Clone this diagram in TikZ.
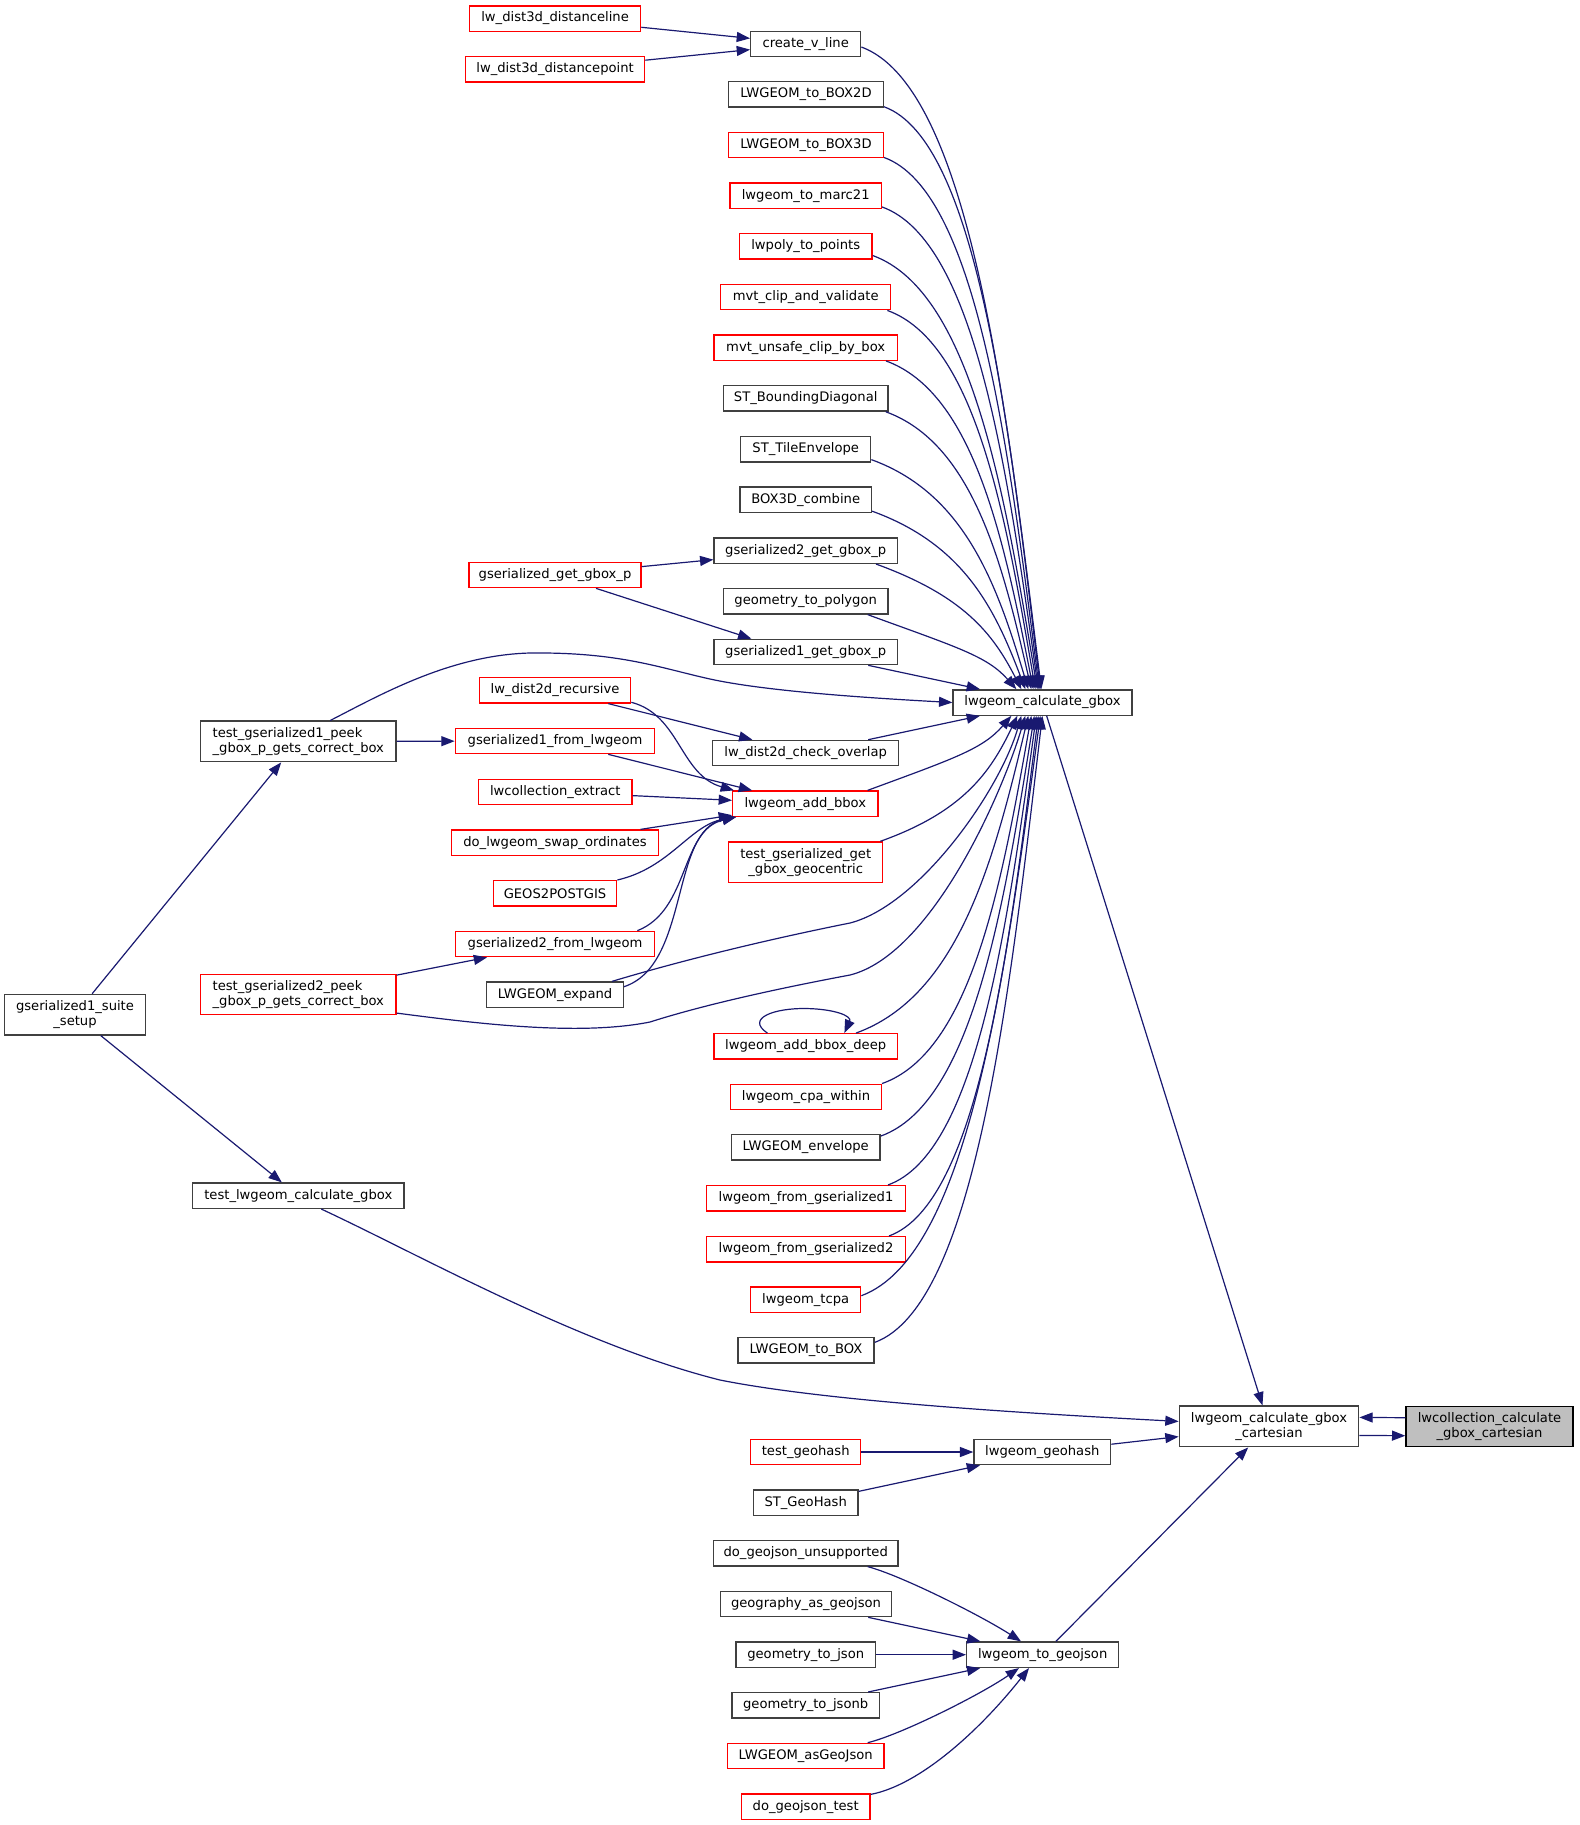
\documentclass[tikz,border=0pt]{standalone}
\usepackage{fontspec}
\setmainfont{DejaVu Sans}
\usetikzlibrary{arrows.meta,calc}
\definecolor{edgec}{HTML}{191970}
\definecolor{nred}{HTML}{FF0000}
\definecolor{nblk}{HTML}{404040}
\definecolor{ngray}{HTML}{BFBFBF}
\begin{document}
\begin{tikzpicture}[x=0.75pt,y=-0.75pt, font=\fontsize{9.85}{11.5}\selectfont,
 nbox/.style={draw=nblk, line width=1pt, inner sep=0pt, minimum height=19pt, text=black},
 nb/.style={nbox},
 nr/.style={nbox, draw=nred},
 wd/.style={minimum width=#1*0.75pt},
 tall/.style={minimum height=#1*0.75pt},
 edg/.style={draw=edgec, line width=0.9pt, -{Triangle[length=10pt,width=7.5pt]}}]
\useasboundingbox (0,0) rectangle (1579,1825);
% nodes
\node[nr,wd=171] (d3l) at (555.1,18.5) {lw\_dist3d\_distanceline};
\node[nr,wd=179] (d3p) at (555.1,69.3) {lw\_dist3d\_distancepoint};
\node[nb,wd=110] (cvl) at (805.7,44) {create\_v\_line};
\node[nb,wd=154.6] (b2d) at (806,94.4) {LWGEOM\_to\_BOX2D};
\node[nr,wd=154.6] (b3d) at (806,145.1) {LWGEOM\_to\_BOX3D};
\node[nr,wd=151.3] (marc) at (805.7,195.6) {lwgeom\_to\_marc21};
\node[nr,wd=132.7] (lwp) at (805.7,246.2) {lwpoly\_to\_points};
\node[nr,wd=170] (mvtc) at (805.7,297.1) {mvt\_clip\_and\_validate};
\node[nr,wd=183.3] (mvtu) at (805.7,347.6) {mvt\_unsafe\_clip\_by\_box};
\node[nb,wd=164.7] (stbd) at (805.7,398.4) {ST\_BoundingDiagonal};
\node[nb,wd=130] (stte) at (805.7,449.3) {ST\_TileEnvelope};
\node[nb,wd=131.3] (b3c) at (805.7,499.8) {BOX3D\_combine};
\node[nb,wd=183.3] (gs2g) at (805.7,550.7) {gserialized2\_get\_gbox\_p};
\node[nr,wd=172] (ggp) at (555,575) {gserialized\_get\_gbox\_p};
\node[nb,wd=164.7] (g2p) at (805.7,601.3) {geometry\_to\_polygon};
\node[nb,wd=183.3] (gs1g) at (805.7,652) {gserialized1\_get\_gbox\_p};
\node[nb,wd=179] (gbox) at (1042.5,702.5) {lwgeom\_calculate\_gbox};
\node[nr,wd=151.4] (ldr) at (555,690.3) {lw\_dist2d\_recursive};
\node[nb,wd=195.3,tall=40.6,align=left] (tgp1) at (298.3,741.4) {test\_gserialized1\_peek\\\_gbox\_p\_gets\_correct\_box};
\node[nr,wd=199.4] (gs1f) at (555,741) {gserialized1\_from\_lwgeom};
\node[nb,wd=186] (cko) at (805.7,753) {lw\_dist2d\_check\_overlap};
\node[nr,wd=153.3] (lce) at (555.3,792) {lwcollection\_extract};
\node[nr,wd=145.3] (addb) at (805.3,803.7) {lwgeom\_add\_bbox};
\node[nr,wd=207.4] (swap) at (555,842.7) {do\_lwgeom\_swap\_ordinates};
\node[nr,wd=154,tall=40.7,align=center] (geoc) at (805.7,862.3) {test\_gserialized\_get\\\_gbox\_geocentric};
\node[nr,wd=123.4] (g2pg) at (555,893.3) {GEOS2POSTGIS};
\node[nr,wd=199.4] (gs2f) at (555,944) {gserialized2\_from\_lwgeom};
\node[nr,wd=195.3,tall=40,align=left] (tgp2) at (298.3,994.4) {test\_gserialized2\_peek\\\_gbox\_p\_gets\_correct\_box};
\node[nb,wd=136.6] (lexp) at (555,994.7) {LWGEOM\_expand};
\node[nb,wd=140.6,tall=40.6,align=center] (setup) at (75,1014.7) {gserialized1\_suite\\\_setup};
\node[nr,wd=183.3] (abd) at (805.7,1046.4) {lwgeom\_add\_bbox\_deep};
\node[nr,wd=150.6] (cpa) at (806,1096.9) {lwgeom\_cpa\_within};
\node[nb,wd=148.7] (env) at (805.7,1147.4) {LWGEOM\_envelope};
\node[nr,wd=198.6] (fg1) at (806,1198.3) {lwgeom\_from\_gserialized1};
\node[nb,wd=211.3] (tlcg) at (298.3,1195.7) {test\_lwgeom\_calculate\_gbox};
\node[nr,wd=198.6] (fg2) at (806,1249.3) {lwgeom\_from\_gserialized2};
\node[nr,wd=110] (tcpa) at (805.7,1299.7) {lwgeom\_tcpa};
\node[nb,wd=136] (tbox) at (806,1350.4) {LWGEOM\_to\_BOX};
\node[nb,wd=179.4,tall=40.7,align=center] (gcart) at (1269,1426.4) {lwgeom\_calculate\_gbox\\\_cartesian};
\node[nbox,fill=ngray,draw=black,wd=167,tall=40,align=center] (lcol) at (1489.5,1426.7) {lwcollection\_calculate\\\_gbox\_cartesian};
\node[nr,wd=110] (tgh) at (805.7,1452) {test\_geohash};
\node[nb,wd=136.7] (lgh) at (1042.3,1452) {lwgeom\_geohash};
\node[nb,wd=104.7] (stgh) at (805.7,1502.7) {ST\_GeoHash};
\node[nb,wd=184.7] (dgu) at (805.7,1553.3) {do\_geojson\_unsupported};
\node[nb,wd=170.6] (gag) at (806,1604) {geography\_as\_geojson};
\node[nb,wd=139.3] (g2j) at (805.7,1654.7) {geometry\_to\_json};
\node[nb,wd=152] (l2gj) at (1042.7,1654.7) {lwgeom\_to\_geojson};
\node[nb,wd=147.3] (g2jb) at (805.7,1705.3) {geometry\_to\_jsonb};
\node[nr,wd=156.7] (lagj) at (805.7,1756) {LWGEOM\_asGeoJson};
\node[nr,wd=128.7] (dgt) at (805.7,1806.7) {do\_geojson\_test};
% edges top
\draw[edg] (d3l) -- (cvl);
\draw[edg] (d3p) -- (cvl);
\draw[edg] ($(cvl.east)+(0,3)$) .. controls (969.5,86.9) and (1005.7,400.7) .. ($(gbox.north west)+(89,0)$);
\draw[edg] ($(b2d.south east)+(0,-1)$) .. controls (977.9,140.7) and (1009.5,427.2) .. ($(gbox.north west)+(88,0)$);
\draw[edg] ($(b3d.south east)+(0,-1)$) .. controls (977.3,191.2) and (1008.7,450) .. ($(gbox.north west)+(87,0)$);
\draw[edg] ($(marc.south east)+(0,-2)$) .. controls (975.9,240.7) and (1007.5,472.2) .. ($(gbox.north west)+(86,0)$);
\draw[edg] ($(lwp.south east)+(0,-4)$) .. controls (971.6,291.5) and (1004.8,494.3) .. ($(gbox.north west)+(85,0)$);
\draw[edg] ($(mvtc.south east)+(-4,0)$) .. controls (976.3,342.6) and (1006.1,518.9) .. ($(gbox.north west)+(83,0)$);
\draw[edg] ($(mvtu.south east)+(-12,0)$) .. controls (974.4,393.1) and (1004.2,541.6) .. ($(gbox.north west)+(81,0)$);
\draw[edg] ($(stbd.south east)+(-3,0)$) .. controls (973.2,443.5) and (1002.6,564.5) .. ($(gbox.north west)+(79,0)$);
\draw[edg] ($(stte.south east)+(0,-3)$) .. controls (965.7,493.8) and (997.3,586) .. ($(gbox.north west)+(76,0)$);
\draw[edg] ($(b3c.south east)+(0,-2)$) .. controls (964.1,544.5) and (995.1,609.2) .. ($(gbox.north west)+(73,0)$);
\draw[edg] ($(gs2g.south east)+(-22,0)$) .. controls (963.2,595.7) and (992.6,633) .. ($(gbox.north west)+(69,0)$);
\draw[edg] ($(g2p.south east)+(-21,0)$) .. controls (957,647.3) and (987,656) .. ($(gbox.north west)+(64,0)$);
\draw[edg] (gs1g) -- (gbox);
\draw[edg] (ggp) -- (gs2g);
\draw[edg] ($(ggp.south)+(41,0)$) -- ($(gs1g.north west)+(38,0)$);
% left middle
\draw[edg] ($(tgp1.north)+(32,0)$) .. controls (380,695) and (450,655) .. (530,653) .. controls (620,652) and (660,668) .. (710,679) .. controls (760,690) and (850,697) .. (gbox.west);
\draw[edg] (tgp1) -- (gs1f);
\draw[edg] (ldr) -- (cko);
\draw[edg] ($(ldr.east)+(0,12)$) .. controls (680,715) and (680,775) .. ($(addb.north west)+(2,0)$);
\draw[edg] (gs1f) -- (addb);
\draw[edg] (lce) -- (addb);
\draw[edg] (swap) -- (addb);
\draw[edg] (g2pg.north east) .. controls (670,868) and (690,825) .. ($(addb.south west)+(4,0)$);
\draw[edg] ($(gs2f.north east)+(-18,0)$) .. controls (690,910) and (680,830) .. ($(addb.south west)+(4,0)$);
\draw[edg] ($(lexp.east)+(0,-8)$) .. controls (690,965) and (670,830) .. ($(addb.south west)+(4,0)$);
\draw[edg] ($(lexp.north east)+(-12,0)$) .. controls (700,955) and (790,935) .. (850,923) .. controls (920,905) and (1000,790) .. ($(gbox.south west)+(69,0)$);
\draw[edg] ($(tgp2.south east)+(0,-2)$) .. controls (480,1024) and (580,1036) .. (650,1022) .. controls (700,1006) and (770,990) .. (850,975) .. controls (930,955) and (1000,800) .. ($(gbox.south west)+(73,0)$);
% bottom family
\draw[edg] (cko) -- (gbox);
\draw[edg] ($(addb.north east)+(-11,0)$) .. controls (953.9,758.5) and (982.9,749) .. ($(gbox.south west)+(59,0)$);
\draw[edg] ($(geoc.north east)+(-3,0)$) .. controls (962.8,811.9) and (990.4,772.5) .. ($(gbox.south west)+(65,0)$);
\draw[edg] ($(abd.north east)+(-42,0)$) .. controls (959.4,995.5) and (994.2,858.6) .. ($(gbox.south west)+(76,0)$);
\draw[edg] (cpa.north east) .. controls (971.9,1051.9) and (1001.9,881.7) .. ($(gbox.south west)+(79,0)$);
\draw[edg] ($(env.north east)+(0,2)$) .. controls (973,1102.9) and (1004,905) .. ($(gbox.south west)+(82,0)$);
\draw[edg] ($(fg1.north east)+(-18,0)$) .. controls (976.9,1152.9) and (1006.9,927.1) .. ($(gbox.south west)+(84,0)$);
\draw[edg] ($(fg2.north east)+(-17,0)$) .. controls (978.7,1203.4) and (1008.9,949.9) .. ($(gbox.south west)+(86,0)$);
\draw[edg] ($(tcpa.east)+(0,-4)$) .. controls (968.9,1255.8) and (1004.9,976.4) .. ($(gbox.south west)+(88,0)$);
\draw[edg] ($(tbox.east)+(0,-8)$) .. controls (975.4,1305.5) and (1009.2,997.6) .. ($(gbox.south west)+(90,0)$);
\draw[edg] ($(abd.north west)+(54,0)$) .. controls (745,1018) and (775,1008) .. (806,1008.5) .. controls (835,1009) and (852,1016) .. ($(abd.north west)+(131,0)$);
% right / bottom
\draw[edg] (gbox) -- (gcart);
\draw[edg] (setup) -- (tgp1);
\draw[edg] (setup) -- (tlcg);
\draw[edg] (tgp2) -- (gs2f);
\draw[edg] ($(tlcg.south)+(23,0)$) .. controls (420,1255) and (580,1345) .. (720,1380) .. controls (820,1400) and (1000,1412) .. ($(gcart.west)+(0,-5)$);
\draw[edg] (lgh) -- (gcart);
\draw[edg] (l2gj) -- (gcart);
\draw[edg] ($(lcol.west)+(0,-9)$) -- ($(gcart.east)+(0,-9)$);
\draw[edg] ($(gcart.east)+(0,9)$) -- ($(lcol.west)+(0,9)$);
\draw[edg] (tgh) -- (lgh);
\draw[edg] (stgh) -- (lgh);
\draw[edg] ($(dgu.south east)+(-31,0)$) .. controls (900,1575) and (980,1615) .. ($(l2gj.north west)+(55,0)$);
\draw[edg] (gag) -- (l2gj);
\draw[edg] (g2j) -- (l2gj);
\draw[edg] (g2jb) -- (l2gj);
\draw[edg] ($(lagj.north east)+(-17,0)$) .. controls (900,1735) and (980,1695) .. ($(l2gj.south west)+(53,0)$);
\draw[edg] ($(dgt.north east)+(0,1)$) .. controls (920,1785) and (980,1730) .. ($(l2gj.south west)+(63,0)$);
\end{tikzpicture}
\end{document}
